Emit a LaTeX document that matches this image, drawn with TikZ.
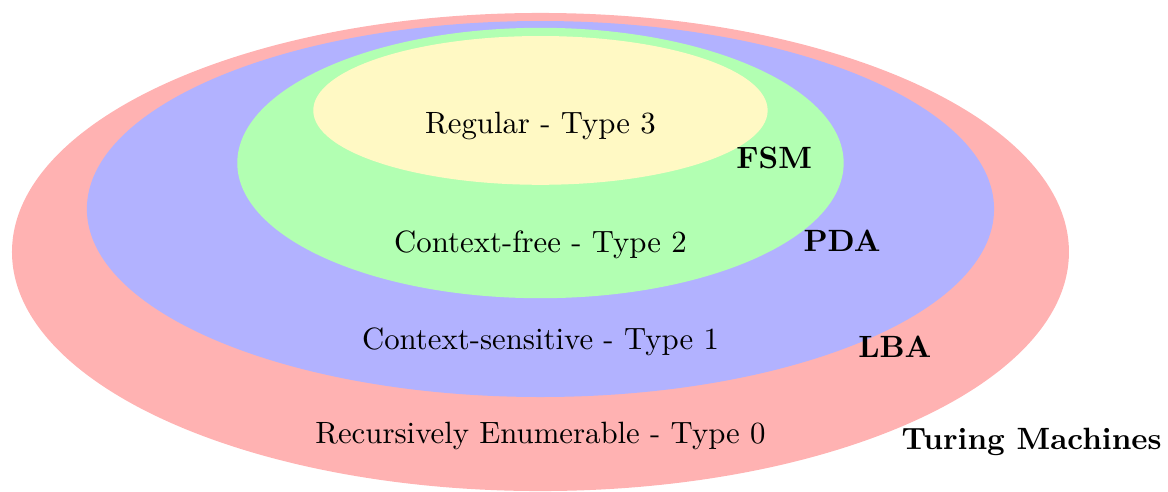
\documentclass[11pt,tikz,border=0pt]{standalone}
\usepackage{tikz}
\usetikzlibrary{positioning}

\definecolor{regyellow}{RGB}{255,249,196}

\begin{document}
\begin{tikzpicture}[
  lang/.style={font=\normalsize, inner sep=1pt},
  machine/.style={font=\normalsize\bfseries, inner sep=1pt}
]
  \useasboundingbox (-6.756,-2.9875) rectangle (7.844,3.15);

  % nested language classes
  \fill[red!30] (0,0) ellipse (6.606 and 2.988);
  \fill[blue!30] (0,0.5375) ellipse (5.67 and 2.35);
  \fill[green!30] (0,1.1125) ellipse (3.79 and 1.69);
  \fill[regyellow] (0,1.77) ellipse (2.84 and 0.93);

  \node[lang] (reg) at (0,1.575) {Regular - Type 3};
  \node[machine] (fsm) at (2.92,1.175) {FSM};
  \node[lang] (cf) at (0,0.0875) {Context-free - Type 2};
  \node[machine] (pda) at (3.77,0.1375) {PDA};
  \node[lang] (cs) at (0,-1.125) {Context-sensitive - Type 1};
  \node[machine] (lba) at (4.43,-1.19) {LBA};
  \node[lang] (re) at (0,-2.30) {Recursively Enumerable - Type 0};
  \node[machine] (tm) at (6.14,-2.375) {Turing Machines};
\end{tikzpicture}
\end{document}
